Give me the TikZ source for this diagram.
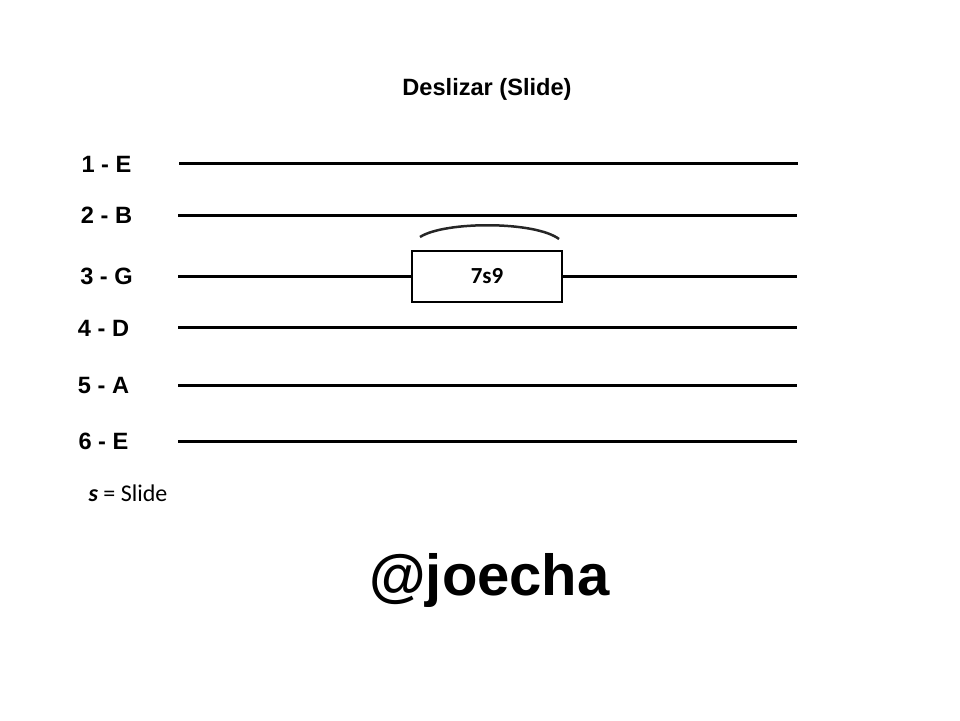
\documentclass[tikz,border=0pt]{standalone}
\usepackage{fontspec}
\setmainfont{Liberation Sans}
\newfontfamily\calib{Carlito}
\usepackage{tikz}
\usetikzlibrary{calc}

\begin{document}
\begin{tikzpicture}[x=1pt,y=-1pt,
    strname/.style={inner sep=0pt,anchor=base,font=\bfseries\fontsize{23.6}{24}\selectfont},
    string/.style={line width=3pt},
    fretbox/.style={draw,line width=2.8pt,fill=white,minimum width=150pt,minimum height=51pt,inner sep=0pt,font=\calib\bfseries\fontsize{23}{23}\selectfont}]
              \useasboundingbox (0,0) rectangle (960,720);
              \node[strname](title)at(487,95){Deslizar (Slide)};
              \node[strname](n1)at(106.5,172){1 - E};
              \node[strname](n2)at(106.5,223){2 - B};
              \node[strname](n3)at(106.5,284){3 - G};
              \node[strname](n4)at(103.5,336.5){4 - D};
              \node[strname](n5)at(103.5,393.5){5 - A};
              \node[strname](n6)at(103.5,449){6 - E};
              \coordinate (a1)at(179,163);\coordinate (b1)at(798,163);
              \coordinate (a2)at(178,215);\coordinate (b2)at(797,215);
              \coordinate (a3)at(178,276);\coordinate (b3)at(797,276);
              \coordinate (a4)at(178,327);\coordinate (b4)at(797,327);
              \coordinate (a5)at(178,385);\coordinate (b5)at(797,385);
              \coordinate (a6)at(178,441);\coordinate (b6)at(797,441);
              \draw[string](a1)--(b1);
              \draw[string](a2)--(b2);
              \draw[string](a3)--(b3);
              \draw[string](a4)--(b4);
              \draw[string](a5)--(b5);
              \draw[string](a6)--(b6);
              \node[fretbox](slide)at(487,276.5){7s9};
              \coordinate (s)at(420,237);
              \coordinate (t)at(559,239);
              \draw[line width=2.5pt,black!85](s)..controls(445,221)and(535,221)..(t);
              \node[inner sep=0pt,anchor=base,font=\calib\fontsize{24}{24}\selectfont](key)at(128,501){\textit{\textbf{s}} = Slide};
              \node[inner sep=0pt,anchor=base,font=\bfseries\fontsize{58}{58}\selectfont](tag)at(489.5,595){@joecha};
            \end{tikzpicture}
\end{document}
